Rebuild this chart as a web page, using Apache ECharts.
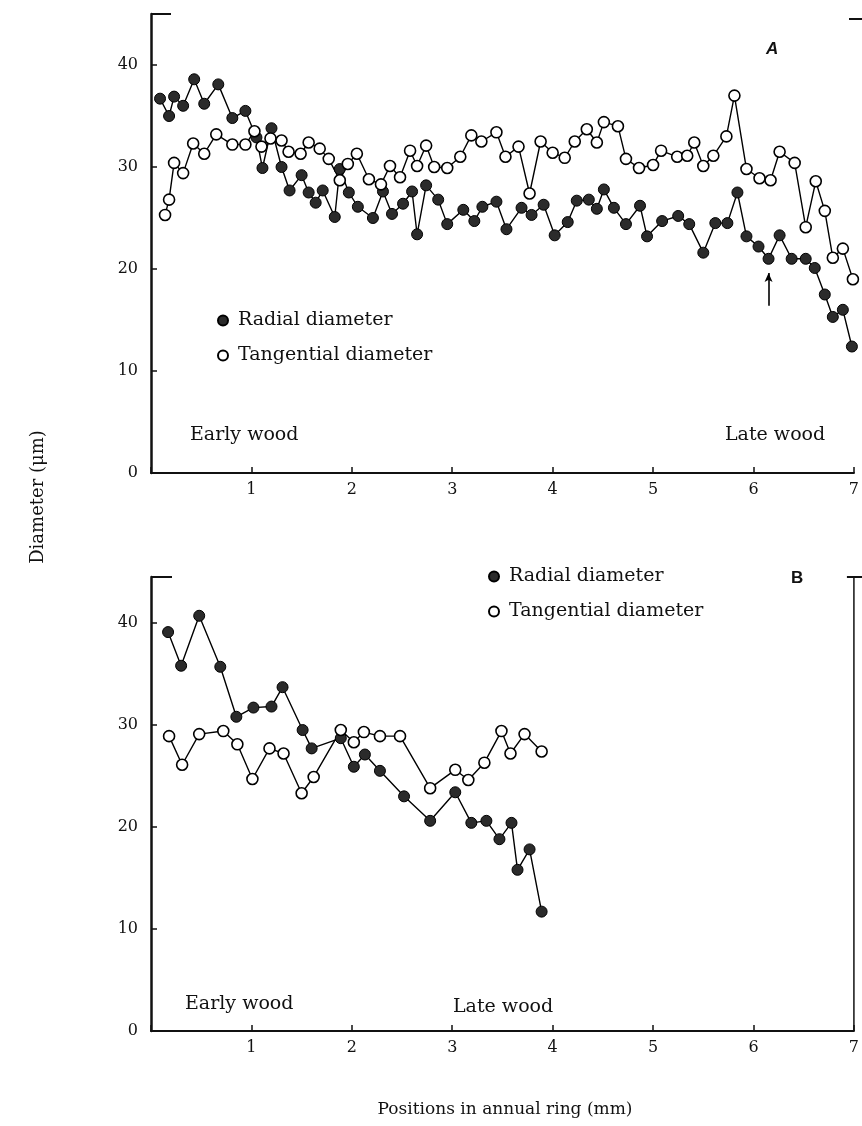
<!DOCTYPE html>
<html>
<head>
<meta charset="utf-8">
<script src="https://cdn.jsdelivr.net/npm/echarts@6/dist/echarts.min.js"></script>
<style>
  html, body { margin: 0; padding: 0; background: #fff; }
  #chart { width: 862px; height: 1126px; }
</style>
</head>
<body>
<div id="chart"></div>
<script>
// panel A: positions (mm) and diameters (um)
const posRadialA = [0.09,0.18,0.23,0.32,0.43,0.53,0.67,0.81,0.94,1.05,
  1.11,1.20,1.30,1.38,1.50,1.57,1.64,1.71,1.83,1.88,
  1.97,2.06,2.21,2.31,2.40,2.51,2.60,2.65,2.74,2.86,
  2.95,3.11,3.22,3.30,3.44,3.54,3.69,3.79,3.91,4.02,
  4.15,4.24,4.36,4.44,4.51,4.61,4.73,4.87,4.94,5.09,
  5.25,5.36,5.50,5.62,5.74,5.84,5.93,6.05,6.15,6.26,
  6.38,6.52,6.61,6.71,6.79,6.89,6.98];
const radialA = [36.7,35.0,36.9,36.0,38.6,36.2,38.1,34.8,35.5,32.9,
  29.9,33.8,30.0,27.7,29.2,27.5,26.5,27.7,25.1,29.8,
  27.5,26.1,25.0,27.6,25.4,26.4,27.6,23.4,28.2,26.8,
  24.4,25.8,24.7,26.1,26.6,23.9,26.0,25.3,26.3,23.3,
  24.6,26.7,26.8,25.9,27.8,26.0,24.4,26.2,23.2,24.7,
  25.2,24.4,21.6,24.5,24.5,27.5,23.2,22.2,21.0,23.3,
  21.0,21.0,20.1,17.5,15.3,16.0,12.4];
const posTangA = [0.14,0.18,0.23,0.32,0.42,0.53,0.65,0.81,0.94,1.03,
  1.10,1.19,1.30,1.37,1.49,1.57,1.68,1.77,1.88,1.96,
  2.05,2.17,2.29,2.38,2.48,2.58,2.65,2.74,2.82,2.95,
  3.08,3.19,3.29,3.44,3.53,3.66,3.77,3.88,4.00,4.12,
  4.22,4.34,4.44,4.51,4.65,4.73,4.86,5.00,5.08,5.24,
  5.34,5.41,5.50,5.60,5.73,5.81,5.93,6.06,6.17,6.26,
  6.41,6.52,6.62,6.71,6.79,6.89,6.99];
const tangA = [25.3,26.8,30.4,29.4,32.3,31.3,33.2,32.2,32.2,33.5,
  32.0,32.8,32.6,31.5,31.3,32.4,31.8,30.8,28.7,30.3,
  31.3,28.8,28.3,30.1,29.0,31.6,30.1,32.1,30.0,29.9,
  31.0,33.1,32.5,33.4,31.0,32.0,27.4,32.5,31.4,30.9,
  32.5,33.7,32.4,34.4,34.0,30.8,29.9,30.2,31.6,31.0,
  31.1,32.4,30.1,31.1,33.0,37.0,29.8,28.9,28.7,31.5,
  30.4,24.1,28.6,25.7,21.1,22.0,19.0];

// panel B
const posRadialB = [0.17,0.30,0.48,0.69,0.85,1.02,1.20,1.31,1.51,1.60,1.89,2.02,
  2.13,2.28,2.52,2.78,3.03,3.19,3.34,3.47,3.59,3.65,3.77,3.89];
const radialB = [39.1,35.8,40.7,35.7,30.8,31.7,31.8,33.7,29.5,27.7,28.7,25.9,
  27.1,25.5,23.0,20.6,23.4,20.4,20.6,18.8,20.4,15.8,17.8,11.7];
const posTangB = [0.18,0.31,0.48,0.72,0.86,1.01,1.18,1.32,1.50,1.62,1.89,2.02,
  2.12,2.28,2.48,2.78,3.03,3.16,3.32,3.49,3.58,3.72,3.89];
const tangB = [28.9,26.1,29.1,29.4,28.1,24.7,27.7,27.2,23.3,24.9,29.5,28.3,
  29.3,28.9,28.9,23.8,25.6,24.6,26.3,29.4,27.2,29.1,27.4];

// arrow in panel A (position, from, to)
const arrowA = [6.15, 16.4, 19.6];

const yTicks = [10, 20, 30, 40];
const xMax = 7;

const SERIF = 'DejaVu Serif';
const INK = '#111';

const pairs = (xs, ys) => xs.map((x, i) => [x, ys[i]]);

const gridA = { left: 151, right: 5, top: 14, bottom: 653 };
const gridB = { left: 151, right: 5, top: 577, bottom: 95 };

function xAxisFor(gi) {
  return {
    type: 'value', gridIndex: gi, min: 0, max: xMax, interval: 1,
    axisLine: { onZero: false, lineStyle: { color: INK, width: 2 } },
    axisTick: { inside: true, length: 6, lineStyle: { color: INK, width: 1.5 } },
    axisLabel: {
      margin: 9, color: INK, fontFamily: SERIF, fontSize: 16,
      formatter: v => (v === 0 ? '' : String(v))
    },
    splitLine: { show: false }
  };
}
function yAxisFor(gi, max) {
  return {
    type: 'value', gridIndex: gi, min: 0, max: max, interval: 10,
    axisLine: { show: true, lineStyle: { color: INK, width: 2.5 } },
    axisTick: { inside: true, length: 6, customValues: yTicks, lineStyle: { color: INK, width: 1.5 } },
    axisLabel: {
      margin: 13, color: INK, fontFamily: SERIF, fontSize: 16,
      formatter: v => (v % 10 === 0 ? String(v) : '')
    },
    splitLine: { show: false }
  };
}

const filled = { color: '#2b2b2b', borderColor: '#000', borderWidth: 1 };
const hollow = { color: '#fff', borderColor: '#000', borderWidth: 1.6 };

function lineSeries(name, gi, data, style) {
  return {
    name: name, type: 'line', xAxisIndex: gi, yAxisIndex: gi,
    data: data, symbol: 'circle', symbolSize: 11, showAllSymbol: true,
    lineStyle: { color: '#000', width: 1.4 },
    itemStyle: style, animation: false, silent: true
  };
}

const legendBase = {
  orient: 'vertical', icon: 'circle', itemWidth: 10, itemHeight: 10,
  itemGap: 16, padding: 0, selectedMode: false,
  data: ['Radial diameter', 'Tangential diameter'],
  textStyle: { fontFamily: SERIF, fontSize: 19, color: INK, padding: [0, 0, 0, 5] }
};

const txt = (x, y, s, extra) => ({
  type: 'text', x: x, y: y,
  style: Object.assign({ text: s, fill: INK, font: '19px "DejaVu Serif"', textVerticalAlign: 'middle' }, extra || {})
});

const chart = echarts.init(document.getElementById('chart'));
chart.setOption({
  backgroundColor: '#fff',
  animation: false,
  grid: [gridA, gridB],
  xAxis: [xAxisFor(0), xAxisFor(1)],
  yAxis: [yAxisFor(0, 45), yAxisFor(1, 44.5)],
  legend: [
    Object.assign({ left: 217, top: 311 }, legendBase),
    Object.assign({ left: 488, top: 567 }, legendBase)
  ],
  series: [
    Object.assign(lineSeries('Radial diameter', 0, pairs(posRadialA, radialA), filled), {
      markLine: {
        silent: true, symbol: ['none', 'arrow'], symbolSize: [6, 9],
        label: { show: false },
        lineStyle: { color: '#000', width: 1.6, type: 'solid' },
        data: [[{ coord: [arrowA[0], arrowA[1]] }, { coord: [arrowA[0], arrowA[2]] }]]
      }
    }),
    lineSeries('Tangential diameter', 0, pairs(posTangA, tangA), hollow),
    lineSeries('Radial diameter', 1, pairs(posRadialB, radialB), filled),
    lineSeries('Tangential diameter', 1, pairs(posTangB, tangB), hollow)
  ]
});

// frame pieces and annotations
function px(gi, x, y) { return chart.convertToPixel({ gridIndex: gi }, [x, y]); }
const aTop = px(0, 0, 45), bTop = px(1, 0, 44.5), bRight = px(1, xMax, 0);
const frame = { stroke: INK, lineWidth: 2 };
chart.setOption({
  graphic: [
    { type: 'line', shape: { x1: aTop[0], y1: aTop[1], x2: aTop[0] + 20, y2: aTop[1] }, style: frame },
    { type: 'line', shape: { x1: 849, y1: aTop[1] + 5, x2: 862, y2: aTop[1] + 5 }, style: frame },
    { type: 'line', shape: { x1: bTop[0], y1: bTop[1], x2: bTop[0] + 21, y2: bTop[1] }, style: frame },
    { type: 'line', shape: { x1: bRight[0] - 7, y1: bTop[1], x2: 862, y2: bTop[1] }, style: frame },
    { type: 'line', shape: { x1: bRight[0], y1: bTop[1], x2: bRight[0], y2: bRight[1] }, style: { stroke: INK, lineWidth: 1.5 } },
    txt(766, 49, 'A', { font: 'italic bold 17px "Liberation Sans"' }),
    txt(791, 578, 'B', { font: 'bold 17px "Liberation Sans"' }),
    txt(190, 435, 'Early wood'),
    txt(725, 435, 'Late wood'),
    txt(185, 1004, 'Early wood'),
    txt(453, 1007, 'Late wood'),
    txt(505, 1110, 'Positions in annual ring (mm)', { font: '17px "DejaVu Serif"', textAlign: 'center' }),
    { type: 'text', x: 38, y: 497, rotation: Math.PI / 2,
      style: { text: 'Diameter (μm)', fill: INK, font: '18px "DejaVu Serif"', textAlign: 'center', textVerticalAlign: 'middle' } }
  ]
});
</script>
</body>
</html>
